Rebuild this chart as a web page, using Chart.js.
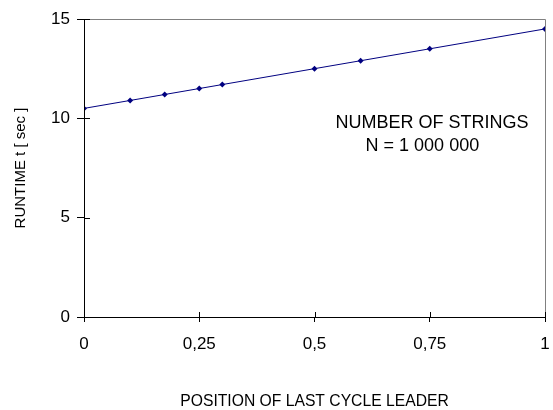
<!DOCTYPE html>
<html>
<head>
<meta charset="utf-8">
<script src="https://cdn.jsdelivr.net/npm/chart.js@4"></script>
<style>
  body { margin: 0; background: #fff; }
  #wrap { width: 553px; height: 410px; }
</style>
</head>
<body>
<div id="wrap"><canvas id="myChart"></canvas></div>
<script>
// data
const positions = [0, 0.1, 0.175, 0.25, 0.3, 0.5, 0.6, 0.75, 1];
const runtimes = [10.5, 10.9, 11.2, 11.5, 11.7, 12.5, 12.9, 13.5, 14.5];
const xTicks = [0, 0.25, 0.5, 0.75, 1];
const xTickLabels = ['0', '0,25', '0,5', '0,75', '1'];
const yTicks = [0, 5, 10, 15];
const noteLines = ['NUMBER OF STRINGS', 'N = 1 000 000'];

const FONT = 'Liberation Sans, Arial, sans-serif';

// frame, inner half of tick marks and the note
const framePlugin = {
    id: 'frame',
    afterDraw(chart) {
        const { ctx, chartArea: a, scales } = chart;
        ctx.save();
        ctx.lineWidth = 1;
        ctx.strokeStyle = '#808080';
        ctx.beginPath();
        ctx.moveTo(a.left, a.top + 0.5);
        ctx.lineTo(a.right + 0.5, a.top + 0.5);
        ctx.lineTo(a.right + 0.5, a.bottom);
        ctx.stroke();

        ctx.strokeStyle = '#000';
        ctx.beginPath();
        ctx.moveTo(a.left + 0.5, a.top);
        ctx.lineTo(a.left + 0.5, a.bottom + 0.5);
        ctx.lineTo(a.right + 0.5, a.bottom + 0.5);
        ctx.stroke();

        ctx.beginPath();
        yTicks.forEach(v => {
            const y = Math.round(scales.y.getPixelForValue(v)) + 0.5;
            ctx.moveTo(a.left, y);
            ctx.lineTo(a.left + 6, y);
        });
        xTicks.forEach(v => {
            const x = Math.round(scales.x.getPixelForValue(v)) + 0.5;
            ctx.moveTo(x, a.bottom);
            ctx.lineTo(x, a.bottom - 5);
        });
        ctx.stroke();

        ctx.fillStyle = '#000';
        ctx.font = '18px ' + FONT;
        ctx.textAlign = 'center';
        ctx.textBaseline = 'middle';
        ctx.fillText(noteLines[0], scales.x.getPixelForValue(0.755), scales.y.getPixelForValue(9.75));
        ctx.fillText(noteLines[1], scales.x.getPixelForValue(0.734), scales.y.getPixelForValue(8.6));
        ctx.restore();
    }
};

const ctx = document.getElementById('myChart').getContext('2d');
const myChart = new Chart(ctx, {
    type: 'scatter',
    data: {
        datasets: [{
            data: positions.map((p, i) => ({ x: p, y: runtimes[i] })),
            showLine: true,
            borderColor: '#000080',
            backgroundColor: '#000080',
            borderWidth: 1,
            pointStyle: 'rectRot',
            pointRadius: 3,
            pointBorderWidth: 0
        }]
    },
    options: {
        responsive: true,
        maintainAspectRatio: false,
        animation: false,
        layout: { padding: { top: 19, right: 8, left: 0, bottom: 0 } },
        plugins: { legend: { display: false }, tooltip: { enabled: false } },
        scales: {
            x: {
                type: 'linear',
                min: 0,
                max: 1,
                afterBuildTicks: s => { s.ticks = xTicks.map(v => ({ value: v })); },
                afterFit: s => { s.height = 93; s.paddingLeft = 0; s.paddingRight = 0; },
                border: { display: false },
                grid: { drawOnChartArea: false, drawTicks: true, tickLength: 5, color: '#000' },
                ticks: {
                    color: '#000',
                    font: { family: FONT, size: 17 },
                    padding: 12,
                    maxRotation: 0,
                    callback: (v) => xTickLabels[xTicks.indexOf(v)]
                },
                title: {
                    display: true,
                    text: 'POSITION OF LAST CYCLE LEADER',
                    color: '#000',
                    font: { family: FONT, size: 15.7 },
                    padding: { top: 0, bottom: -1.5 }
                }
            },
            y: {
                min: 0,
                max: 15,
                afterBuildTicks: s => { s.ticks = yTicks.map(v => ({ value: v })); },
                afterFit: s => { s.width = 84; s.paddingTop = 0; s.paddingBottom = 0; },
                border: { display: false },
                grid: { drawOnChartArea: false, drawTicks: true, tickLength: 7, color: '#000' },
                ticks: {
                    color: '#000',
                    font: { family: FONT, size: 17 },
                    padding: 7
                },
                title: {
                    display: true,
                    text: 'RUNTIME t [ sec ]',
                    color: '#000',
                    font: { family: FONT, size: 15 },
                    padding: { top: 12, bottom: 0 }
                }
            }
        }
    },
    plugins: [framePlugin]
});
</script>
</body>
</html>
